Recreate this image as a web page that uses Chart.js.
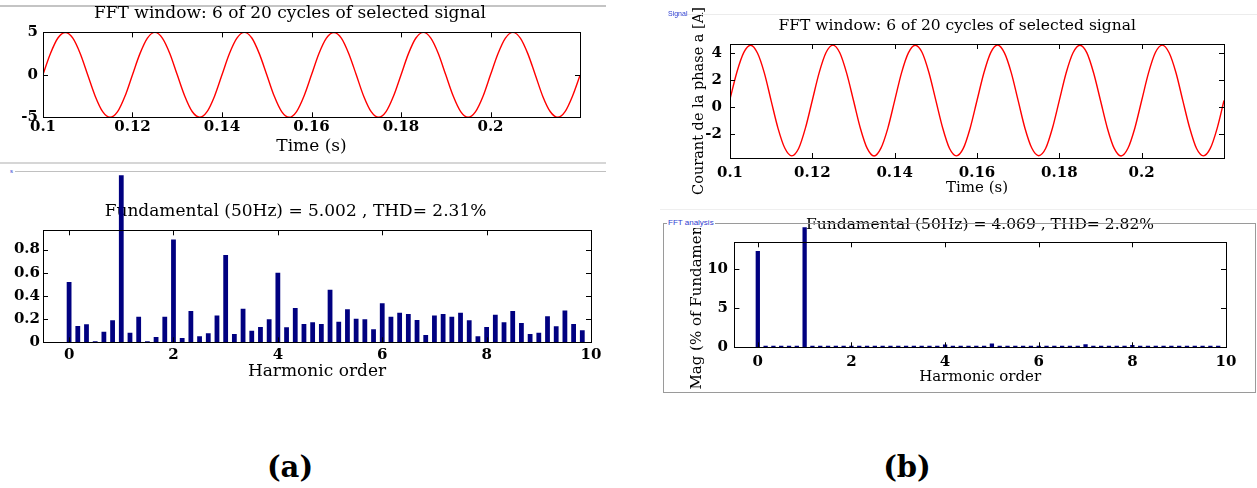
<!DOCTYPE html>
<html>
<head>
<meta charset="utf-8">
<script src="https://cdn.jsdelivr.net/npm/chart.js@4.4.1/dist/chart.umd.min.js"></script>
<style>
  body { margin: 0; background: #fff; width: 1257px; height: 488px; position: relative; overflow: hidden; font-family: 'DejaVu Serif', serif; }
  canvas, .rule, .tag, .frame, .caption, .head { position: absolute; }
  .tag { font-family: 'Liberation Sans', Arial, sans-serif; color: #3040d0; white-space: nowrap; line-height: 10px; }
  .caption { font-weight: bold; font-size: 29px; line-height: 34px; text-align: center; width: 100px; }
  .head { font-size: 15.5px; line-height: 18px; text-align: center; white-space: nowrap; }
  .frame { border: 1px solid #9a9a9a; pointer-events: none; }
</style>
</head>
<body>
<!-- panel (a) -->
<div class="rule" style="left:0;top:5px;width:606px;height:2px;background:#c4c4c4"></div>
<canvas id="sigA" width="606" height="160" style="left:0;top:0"></canvas>
<div class="rule" style="left:0;top:162px;width:606px;height:2px;background:#d6d6d6"></div>
<div class="rule" style="left:15px;top:171px;width:591px;height:1px;background:#c0c0c0"></div>
<div class="tag" style="left:10px;top:166px;font-size:6px">s</div>
<canvas id="fftA" width="606" height="217" style="left:0;top:173px"></canvas>
<div class="caption" style="left:240px;top:450px">(a)</div>

<!-- panel (b) -->
<canvas id="sigB" width="597" height="200" style="left:660px;top:0"></canvas>
<div class="rule" style="left:687px;top:14px;width:570px;height:1px;background:#ececec"></div>
<div class="tag" style="left:668px;top:9px;font-size:7px">Signal</div>
<div class="rule" style="left:660px;top:209px;width:597px;height:1px;background:#efefef"></div>
<canvas id="fftB" width="597" height="166" style="left:660px;top:226px"></canvas>
<div class="head" style="left:780px;top:215px;width:400px">Fundamental (50Hz) = 4.069 , THD= 2.82%</div>
<div class="frame" style="left:663px;top:223px;width:591px;height:168px"></div>
<div class="tag" style="left:667px;top:218px;font-size:8px;background:#fff;padding:0 1px">FFT analysis</div>
<div class="caption" style="left:857px;top:450px">(b)</div>

<script>
// sampled current, one sample every 30 degrees of the 50 Hz wave, starting at t = 0.1 s
const sampleStep = 1 / 600;
const signalA = [
  0.05, 2.52, 4.34, 4.99, 4.32, 2.49, -0.02, -2.51, -4.33, -5.0, -4.34, -2.5,
  0.02, 2.5, 4.33, 5.0, 4.33, 2.52, 0.0, -2.49, -4.32, -4.99, -4.33, -2.51,
  0.01, 2.51, 4.32, 5.0, 4.34, 2.5, 0.02, -2.5, -4.33, -5.0, -4.32, -2.49,
  0.0, 2.52, 4.33, 4.99, 4.33, 2.49, 0.01, -2.52, -4.34, -5.0, -4.33, -2.5,
  -0.01, 2.5, 4.34, 5.0, 4.32, 2.51, 0.0, -2.5, -4.33, -4.99, -4.33, -2.52,
  0.0, 2.49, 4.33, 5.0, 4.33, 2.5, 0.01, -2.51, -4.32, -5.0, -4.34, -2.5,
  -0.08
];
const signalB = [
  0.6, 2.6, 4.05, 4.6, 4.02, 2.55, 0.48, -1.56, -3.04, -3.6, -3.06, -1.53,
  0.52, 2.57, 4.06, 4.61, 4.04, 2.53, 0.5, -1.55, -3.05, -3.61, -3.03, -1.56,
  0.49, 2.55, 4.03, 4.6, 4.06, 2.56, 0.51, -1.54, -3.06, -3.6, -3.05, -1.55,
  0.5, 2.54, 4.05, 4.62, 4.03, 2.55, 0.49, -1.57, -3.04, -3.59, -3.06, -1.54,
  0.51, 2.56, 4.04, 4.6, 4.05, 2.54, 0.5, -1.55, -3.05, -3.61, -3.04, -1.55,
  0.5, 2.55, 4.06, 4.61, 4.04, 2.56, 0.49, -1.54, -3.06, -3.6, -3.05, -1.56,
  0.5
];
const timeTicks = [0.1, 0.12, 0.14, 0.16, 0.18, 0.2];
const ampTicksA = [-5, 0, 5];
const ampTicksB = [-2, 0, 2, 4];

// spectrum bins every 1/6 of the fundamental (6-cycle window), magnitude in % of fundamental
const binStep = 1 / 6;
const magA = [
  0.52, 0.14, 0.155, 0.01, 0.09, 0.19,
  100, 0.083, 0.22, 0.01, 0.046, 0.22,
  0.886, 0.037, 0.27, 0.052, 0.077, 0.232,
  0.754, 0.072, 0.29, 0.1, 0.132, 0.198,
  0.6, 0.129, 0.295, 0.158, 0.172, 0.158,
  0.453, 0.178, 0.284, 0.204, 0.198, 0.112,
  0.336, 0.22, 0.255, 0.244, 0.192, 0.063,
  0.232, 0.244, 0.22, 0.255, 0.19, 0.052,
  0.132, 0.238, 0.172, 0.27, 0.166, 0.072,
  0.083, 0.224, 0.138, 0.275, 0.158, 0.103
];
const magB = [
  12.35, 0.2, 0.2, 0.2, 0.2, 0.2,
  100, 0.2, 0.2, 0.2, 0.2, 0.2,
  0.2, 0.2, 0.2, 0.2, 0.2, 0.2,
  0.2, 0.2, 0.2, 0.2, 0.2, 0.2,
  0.35, 0.2, 0.2, 0.2, 0.2, 0.2,
  0.5, 0.2, 0.2, 0.2, 0.2, 0.2,
  0.2, 0.2, 0.2, 0.2, 0.2, 0.2,
  0.4, 0.2, 0.2, 0.2, 0.2, 0.2,
  0.3, 0.2, 0.2, 0.2, 0.2, 0.2,
  0.2, 0.2, 0.2, 0.2, 0.2, 0.2
];
const harmonicTicks = [0, 2, 4, 6, 8, 10];
const magTicksA = [0, 0.2, 0.4, 0.6, 0.8];
const magTicksB = [0, 5, 10];

Chart.defaults.font.family = "'DejaVu Serif', serif";
Chart.defaults.color = '#000';

const wavePoints = vals => vals.map((v, i) => ({ x: 0.1 + i * sampleStep, y: v }));
const barPoints = vals => vals.map((v, i) => ({ x: i * binStep, y: v }));
const useTicks = list => scale => { scale.ticks = list.map(v => ({ value: v })); };

// closed axes box with tick marks pointing inwards on all four sides
const axesBox = {
  id: 'axesBox',
  afterDraw(chart) {
    const { ctx, chartArea: a, scales: { x, y } } = chart;
    const len = 5;
    ctx.save();
    ctx.strokeStyle = '#000';
    ctx.lineWidth = 1;
    ctx.beginPath();
    x.ticks.forEach(t => {
      const px = Math.round(x.getPixelForValue(t.value)) + 0.5;
      ctx.moveTo(px, a.bottom); ctx.lineTo(px, a.bottom - len);
      ctx.moveTo(px, a.top); ctx.lineTo(px, a.top + len);
    });
    y.ticks.forEach(t => {
      const py = Math.round(y.getPixelForValue(t.value)) + 0.5;
      ctx.moveTo(a.left, py); ctx.lineTo(a.left + len, py);
      ctx.moveTo(a.right, py); ctx.lineTo(a.right - len, py);
    });
    ctx.stroke();
    ctx.strokeRect(Math.round(a.left) + 0.5, Math.round(a.top) + 0.5,
      Math.round(a.right - a.left), Math.round(a.bottom - a.top));
    ctx.restore();
  }
};

function axis(opts) {
  return {
    type: 'linear',
    min: opts.min,
    max: opts.max,
    offset: false,
    grid: { display: false, drawTicks: false },
    border: { display: false },
    afterBuildTicks: useTicks(opts.ticks),
    afterFit: s => { if (s.isHorizontal()) s.height = opts.size; else s.width = opts.size; },
    ticks: {
      autoSkip: false, maxRotation: 0, padding: opts.pad,
      font: { size: opts.fontSize, weight: 'bold' },
      callback: v => String(v)
    },
    title: opts.title ? {
      display: true, text: opts.title, font: { size: opts.titleSize },
      padding: opts.titlePad
    } : { display: false }
  };
}

function baseOptions(padding, title) {
  return {
    responsive: false,
    animation: false,
    events: [],
    layout: { padding },
    plugins: {
      legend: { display: false },
      tooltip: { enabled: false },
      title: title || { display: false }
    }
  };
}

// (a) time signal
new Chart(document.getElementById('sigA'), {
  type: 'line',
  data: { datasets: [{ data: wavePoints(signalA), borderColor: '#ff0000', borderWidth: 1.4,
    pointRadius: 0, cubicInterpolationMode: 'monotone' }] },
  options: Object.assign(baseOptions({ left: 0, right: 26, top: 0, bottom: 0 },
    { display: true, text: 'FFT window: 6 of 20 cycles of selected signal',
      font: { size: 17, weight: 'normal' }, padding: { top: 3, bottom: 9 } }), {
    scales: {
      x: axis({ min: 0.1, max: 0.22, ticks: timeTicks, size: 42.7, pad: 1.2, fontSize: 15,
        title: 'Time (s)', titleSize: 17, titlePad: { top: 0, bottom: 2.8 } }),
      y: axis({ min: -5, max: 5, ticks: ampTicksA, size: 43, pad: 5, fontSize: 15 })
    }
  }),
  plugins: [axesBox]
});

// (a) spectrum
new Chart(document.getElementById('fftA'), {
  type: 'bar',
  data: { datasets: [{ data: barPoints(magA), backgroundColor: '#000080',
    barPercentage: 0.55, categoryPercentage: 1,
    clip: { left: 0, right: 0, bottom: 0, top: 55 } }] },
  options: Object.assign(baseOptions({ left: 0, right: 15, top: 0, bottom: 0 },
    { display: true, text: 'Fundamental (50Hz) = 5.002 , THD= 2.31%',
      font: { size: 17, weight: 'normal' }, padding: { top: 28.8, bottom: 8.1 } }), {
    scales: {
      x: axis({ min: -0.5, max: 10, ticks: harmonicTicks, size: 47.7, pad: 3.7, fontSize: 15,
        title: 'Harmonic order', titleSize: 17, titlePad: { top: 0, bottom: 7.8 } }),
      y: axis({ min: 0, max: 0.966, ticks: magTicksA, size: 43, pad: 3, fontSize: 15 })
    }
  }),
  plugins: [axesBox]
});

// (b) time signal
new Chart(document.getElementById('sigB'), {
  type: 'line',
  data: { datasets: [{ data: wavePoints(signalB), borderColor: '#ff0000', borderWidth: 1.4,
    pointRadius: 0, cubicInterpolationMode: 'monotone' }] },
  options: Object.assign(baseOptions({ left: 30.4, right: 33, top: 0, bottom: 0 },
    { display: true, text: 'FFT window: 6 of 20 cycles of selected signal',
      font: { size: 15.5, weight: 'normal' }, padding: { top: 16.7, bottom: 8.7 } }), {
    scales: {
      x: axis({ min: 0.1, max: 0.22, ticks: timeTicks, size: 42, pad: 6, fontSize: 15,
        title: 'Time (s)', titleSize: 15, titlePad: { top: 0, bottom: 3 } }),
      y: axis({ min: -3.76, max: 4.69, ticks: ampTicksB, size: 39.6, pad: 8, fontSize: 15,
        title: 'Courant de la phase a [A]', titleSize: 14.5, titlePad: { top: 0, bottom: 0 } })
    }
  }),
  plugins: [axesBox]
});

// (b) spectrum
new Chart(document.getElementById('fftB'), {
  type: 'bar',
  data: { datasets: [{ data: barPoints(magB), backgroundColor: '#000080',
    barPercentage: 0.55, categoryPercentage: 1,
    clip: { left: 0, right: 0, bottom: 0, top: 15 } }] },
  options: Object.assign(baseOptions({ left: 28, right: 31, top: 16.3, bottom: 0 }), {
    scales: {
      x: axis({ min: -0.5, max: 10, ticks: harmonicTicks, size: 44.7, pad: 5.5, fontSize: 15,
        title: 'Harmonic order', titleSize: 15, titlePad: { top: 0, bottom: 6 } }),
      y: axis({ min: 0, max: 13.46, ticks: magTicksB, size: 46.4, pad: 6.4, fontSize: 15,
        title: 'Mag (% of Fundamental)', titleSize: 15, titlePad: { top: 0, bottom: 0 } })
    }
  }),
  plugins: [axesBox]
});
</script>
</body>
</html>
